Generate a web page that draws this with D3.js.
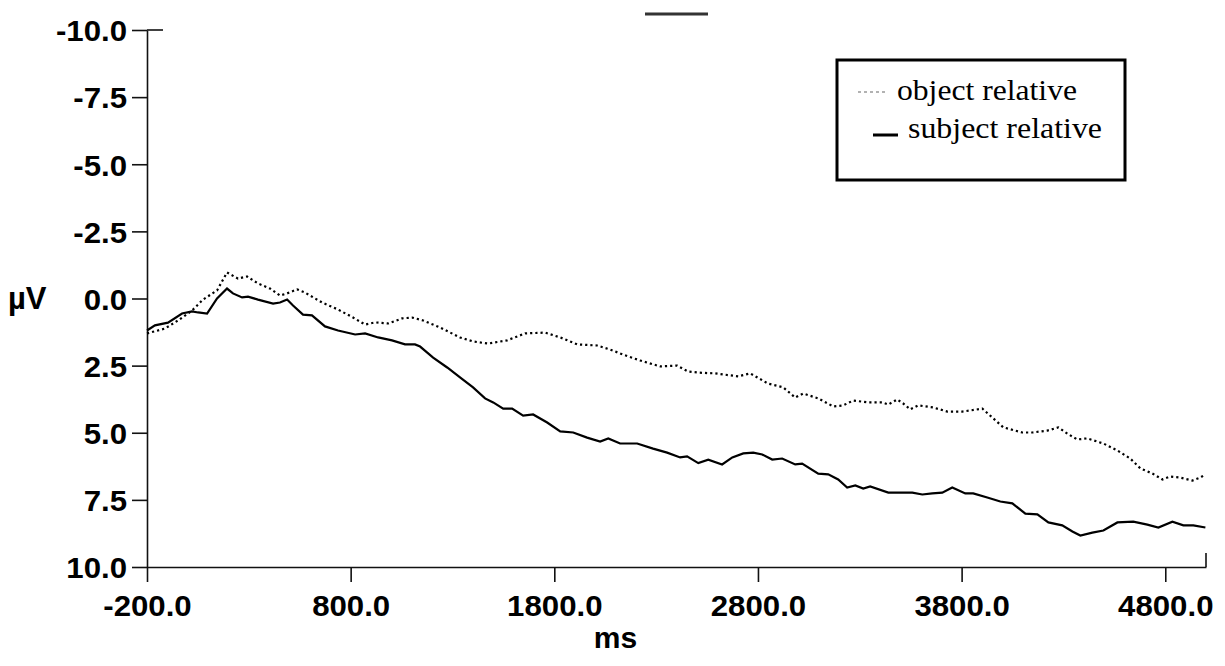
<!DOCTYPE html>
<html>
<head>
<meta charset="utf-8">
<script src="https://cdn.jsdelivr.net/npm/d3@7"></script>
<style>
  html, body { margin: 0; padding: 0; background: #fff; }
  svg { display: block; }
</style>
</head>
<body>
<svg id="chart" width="1225" height="666"></svg>
<script>
// ---- Data (ms, µV; negative plotted up) ----
const subjectTime = [-200,-161,-97,-28,21,51,95,144,193,222,267,296,345,419,453,488,517,566,610,674,738,822,871,935,1003,1067,1116,1141,1166,1205,1274,1337,1401,1460,1500,1549,1593,1647,1696,1765,1829,1893,1961,2025,2065,2123,2207,2285,2354,2418,2452,2507,2556,2624,2674,2728,2777,2821,2870,2919,2983,3017,3096,3145,3194,3238,3278,3317,3351,3440,3558,3607,3656,3705,3754,3818,3857,3926,3990,4049,4113,4172,4226,4294,4344,4383,4442,4496,4565,4643,4712,4766,4835,4889,4938,4997];
const subjectValues = [1.19,1.0,0.9,0.56,0.48,0.52,0.56,0,-0.37,-0.19,-0.04,-0.07,0.04,0.19,0.15,0.04,0.26,0.6,0.63,1.04,1.19,1.34,1.3,1.45,1.56,1.71,1.71,1.79,1.95,2.2,2.57,2.94,3.31,3.72,3.87,4.1,4.1,4.36,4.32,4.62,4.95,4.99,5.18,5.33,5.21,5.4,5.4,5.59,5.74,5.92,5.88,6.13,6.0,6.18,5.92,5.77,5.74,5.81,6.0,5.96,6.18,6.15,6.52,6.55,6.74,7.04,6.96,7.08,7.0,7.23,7.23,7.3,7.26,7.23,7.04,7.26,7.26,7.41,7.56,7.63,8.01,8.04,8.34,8.45,8.68,8.83,8.72,8.64,8.34,8.31,8.42,8.53,8.31,8.45,8.45,8.53];

const objectTime = [-200,-112,-48,21,75,144,193,247,291,345,404,453,488,537,576,660,738,812,871,920,984,1053,1102,1156,1239,1337,1401,1475,1568,1657,1755,1829,1913,2010,2074,2138,2222,2320,2403,2457,2507,2590,2703,2762,2850,2924,2983,3022,3096,3170,3219,3268,3342,3410,3440,3484,3513,3548,3587,3661,3730,3803,3843,3902,3956,4005,4098,4147,4221,4275,4319,4368,4417,4496,4565,4628,4678,4737,4786,4825,4874,4933,4972,4997];
const objectValues = [1.3,1.12,0.82,0.45,0.04,-0.3,-0.97,-0.74,-0.82,-0.56,-0.37,-0.11,-0.19,-0.34,-0.22,0.15,0.41,0.71,0.97,0.89,0.93,0.74,0.71,0.82,1.08,1.45,1.6,1.68,1.56,1.3,1.27,1.45,1.71,1.75,1.9,2.09,2.31,2.53,2.5,2.72,2.76,2.79,2.9,2.79,3.17,3.31,3.69,3.54,3.72,4.02,3.98,3.8,3.87,3.87,3.95,3.76,3.91,4.13,3.98,4.06,4.21,4.21,4.17,4.1,4.47,4.8,4.99,4.99,4.92,4.8,5.03,5.25,5.21,5.4,5.66,5.96,6.33,6.52,6.74,6.63,6.67,6.78,6.67,6.55];

const xTicks = [-200, 800, 1800, 2800, 3800, 4800];
const yTicks = [-10, -7.5, -5, -2.5, 0, 2.5, 5, 7.5, 10];
const legendLabels = ["object relative", "subject relative"];
const xTitle = "ms";
const yTitle = "µV";

// ---- Layout ----
const svg = d3.select("#chart");
const x = d3.scaleLinear().domain([-200, 5000]).range([147, 1206]);
const y = d3.scaleLinear().domain([-10, 10]).range([30, 567]);

const sans = "'Liberation Sans', Arial, sans-serif";
const serif = "'Liberation Serif', 'Times New Roman', serif";
const FS = 30;
const SX = 1.04;
const fmt = d => d3.format(".1f")(d).replace("−", "-");

// Y axis
const yAxis = svg.append("g")
  .attr("transform", `translate(${x(-200)},0)`)
  .call(d3.axisLeft(y).tickValues(yTicks).tickSize(15).tickSizeOuter(0).tickFormat(fmt));
yAxis.select(".domain").attr("stroke", "#111").attr("stroke-width", 1.6);
yAxis.selectAll(".tick line").attr("stroke", "#111").attr("stroke-width", 1.6);
yAxis.selectAll(".tick text")
  .attr("font-family", sans).attr("font-size", FS).attr("font-weight", "bold").attr("fill", "#000")
  .attr("x", -20 / SX).attr("dy", "0.36em")
  .attr("transform", `scale(${SX},1)`);
// extended top tick to the right
yAxis.append("line")
  .attr("x1", 0).attr("x2", 16)
  .attr("y1", y(-10)).attr("y2", y(-10))
  .attr("stroke", "#111").attr("stroke-width", 1.6);

// X axis
const xAxis = svg.append("g")
  .attr("transform", `translate(0,${y(10)})`)
  .call(d3.axisBottom(x).tickValues(xTicks).tickSize(15).tickSizeOuter(0).tickFormat(fmt));
xAxis.select(".domain").attr("stroke", "#111").attr("stroke-width", 1.6);
xAxis.selectAll(".tick line").attr("stroke", "#111").attr("stroke-width", 1.6);
xAxis.selectAll(".tick text")
  .attr("font-family", sans).attr("font-size", FS).attr("font-weight", "bold").attr("fill", "#000")
  .attr("y", 49).attr("dy", null).attr("x", 0)
  .attr("transform", `scale(${SX},1)`);
// end tick at right, pointing up
xAxis.append("line")
  .attr("x1", x(5000)).attr("x2", x(5000))
  .attr("y1", 0).attr("y2", -14)
  .attr("stroke", "#111").attr("stroke-width", 1.6);

// Axis titles
svg.append("text").attr("x", 8).attr("y", 298).attr("dy", "0.36em")
  .attr("font-family", sans).attr("font-size", 31).attr("font-weight", "bold").text(yTitle);
svg.append("text").attr("x", x(2100)).attr("y", 648).attr("text-anchor", "middle")
  .attr("font-family", sans).attr("font-size", FS).attr("font-weight", "bold").text(xTitle);

// Lines
const line = d3.line().x(d => x(d[0])).y(d => y(d[1])).curve(d3.curveLinear);
const objectData = objectTime.map((t, i) => [t, objectValues[i]]);
const subjectData = subjectTime.map((t, i) => [t, subjectValues[i]]);

svg.append("path").datum(objectData).attr("d", line)
  .attr("fill", "none").attr("stroke", "#000").attr("stroke-width", 2.2)
  .attr("stroke-dasharray", "2.2,3");
svg.append("path").datum(subjectData).attr("d", line)
  .attr("fill", "none").attr("stroke", "#000").attr("stroke-width", 2.2);

// Legend
const lg = svg.append("g");
lg.append("rect").attr("x", 837).attr("y", 60).attr("width", 288).attr("height", 120)
  .attr("fill", "#fff").attr("stroke", "#000").attr("stroke-width", 3);
lg.append("line").attr("x1", 858).attr("x2", 886).attr("y1", 92).attr("y2", 92)
  .attr("stroke", "#666").attr("stroke-width", 1.2).attr("stroke-dasharray", "3,3");
lg.append("line").attr("x1", 873).attr("x2", 898).attr("y1", 135).attr("y2", 135)
  .attr("stroke", "#000").attr("stroke-width", 3);
lg.append("text").attr("x", 897).attr("y", 100)
  .attr("font-family", serif).attr("font-size", 29)
  .attr("textLength", 180).attr("lengthAdjust", "spacingAndGlyphs")
  .text(legendLabels[0]);
lg.append("text").attr("x", 908).attr("y", 138)
  .attr("font-family", serif).attr("font-size", 29)
  .attr("textLength", 194).attr("lengthAdjust", "spacingAndGlyphs")
  .text(legendLabels[1]);

// faint title remnant at top
svg.append("line").attr("x1", 645).attr("x2", 708).attr("y1", 14).attr("y2", 14)
  .attr("stroke", "#333").attr("stroke-width", 3);
</script>
</body>
</html>
